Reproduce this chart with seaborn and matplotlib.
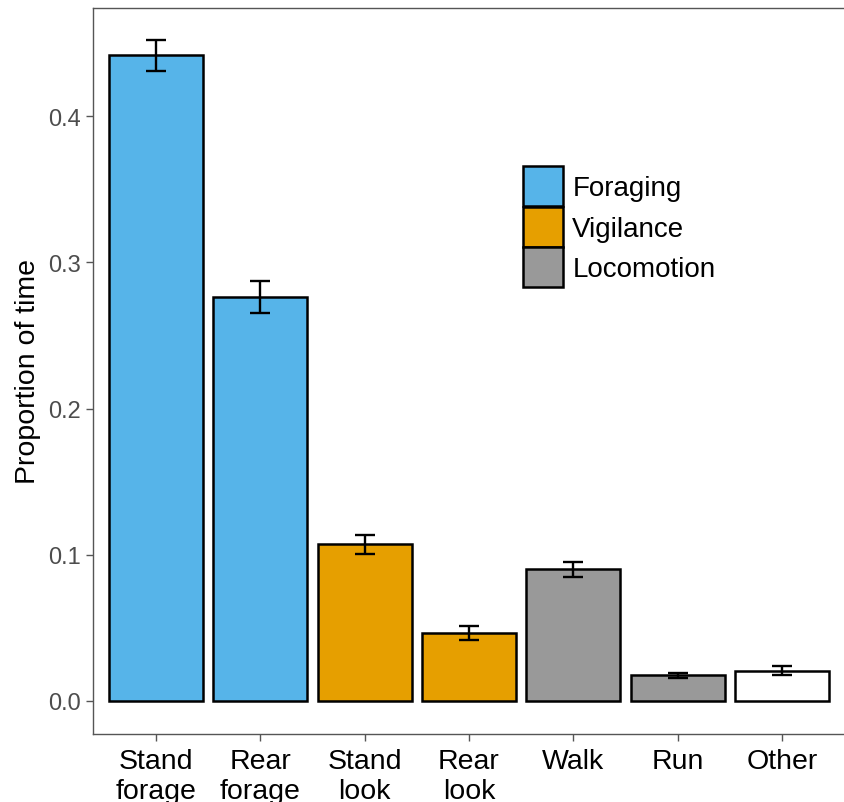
import matplotlib
matplotlib.use("Agg")
import matplotlib.pyplot as plt
from matplotlib.patches import Patch
import seaborn as sns
import pandas as pd

# Behaviour categories, their group, mean proportion of time and standard error
behaviours = ["Stand\nforage", "Rear\nforage", "Stand\nlook", "Rear\nlook", "Walk", "Run", "Other"]
groups = ["Foraging", "Foraging", "Vigilance", "Vigilance", "Locomotion", "Locomotion", "Other"]
proportions = [0.4415, 0.2762, 0.1072, 0.0466, 0.0899, 0.0175, 0.0206]
std_errors = [0.0105, 0.0108, 0.0065, 0.0049, 0.0053, 0.0016, 0.0030]

group_colours = {
    "Foraging": "#56B4E9",
    "Vigilance": "#E69F00",
    "Locomotion": "#999999",
    "Other": "#FFFFFF",
}
legend_groups = ["Foraging", "Vigilance", "Locomotion"]

df = pd.DataFrame({"behaviour": behaviours, "group": groups,
                   "proportion": proportions, "se": std_errors})

sns.set_theme(style="white")
plt.rcParams["font.family"] = ["Liberation Sans", "DejaVu Sans"]
plt.rcParams["text.color"] = "black"

fig = plt.figure(figsize=(8.45, 8.03), dpi=100)
ax = fig.add_axes([93 / 845, (803 - 735) / 803, 752 / 845, 726 / 803])

sns.barplot(data=df, x="behaviour", y="proportion", hue="group",
            palette=group_colours, dodge=False, width=0.9, saturation=1,
            edgecolor="black", linewidth=1.8, legend=False, ax=ax)

# Standard-error whiskers on each bar
ax.errorbar(x=range(len(behaviours)), y=df["proportion"], yerr=df["se"],
            fmt="none", ecolor="black", elinewidth=1.7, capsize=7.5, capthick=1.7,
            zorder=5)

ax.set_xlim(-0.6, len(behaviours) - 0.4)
ax.set_ylim(-0.0226, 0.4739)
ax.set_yticks([0.0, 0.1, 0.2, 0.3, 0.4])
ax.set_yticklabels(["0.0", "0.1", "0.2", "0.3", "0.4"])

ax.set_xlabel("")
ax.set_ylabel("Proportion of time", fontsize=20.5, color="black", labelpad=5)

for side in ["left", "right", "top", "bottom"]:
    ax.spines[side].set_visible(True)
    ax.spines[side].set_color("#555555")
    ax.spines[side].set_linewidth(1.0)

ax.tick_params(axis="y", which="both", left=True, length=5, width=1.0,
               color="#555555", labelsize=17, labelcolor="#4D4D4D", pad=4)
ax.tick_params(axis="x", which="both", bottom=True, length=5, width=1.0,
               color="#555555", labelsize=20.5, labelcolor="black", pad=5)
for lbl in ax.get_xticklabels():
    lbl.set_linespacing(1.2)

handles = [Patch(facecolor=group_colours[g], edgecolor="black", linewidth=1.8, label=g)
           for g in legend_groups]
leg = ax.legend(handles=handles, loc="upper left", bbox_to_anchor=(0.572, 0.782),
                frameon=False, fontsize=20, handlelength=1.42, handleheight=1.84,
                labelspacing=0.02, handletextpad=0.35, borderpad=0, borderaxespad=0)
for txt in leg.get_texts():
    txt.set_color("black")

fig.savefig("out.png", dpi=100, facecolor="white")
